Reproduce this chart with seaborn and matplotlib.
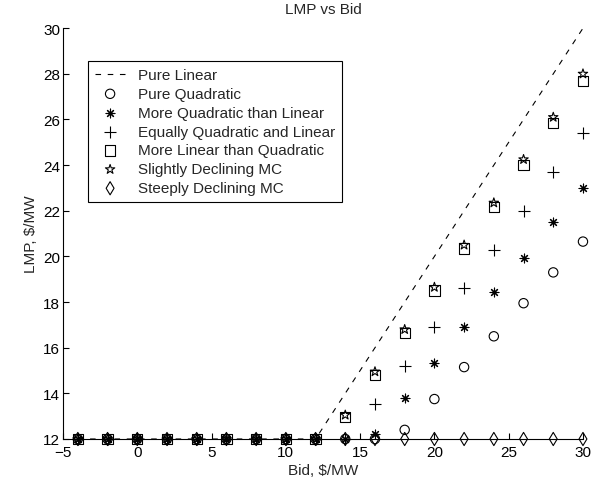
import matplotlib
matplotlib.use("Agg")
import matplotlib.pyplot as plt
import seaborn as sns
import pandas as pd

bid = [-4, -2, 0, 2, 4, 6, 8, 10, 12, 14, 16, 18, 20, 22, 24, 26, 28, 30]
pure_linear = [12, 12, 12, 12, 12, 12, 12, 12, 12, 14, 16, 18, 20, 22, 24, 26, 28, 30]
pure_quadratic = [12, 12, 12, 12, 12, 12, 12, 12, 12, 12, 12, 12.4, 13.75, 15.15, 16.5, 17.95, 19.3, 20.65]
more_quad = [12, 12, 12, 12, 12, 12, 12, 12, 12, 12, 12.2, 13.8, 15.35, 16.9, 18.45, 19.95, 21.5, 23.0]
equal_ql = [12, 12, 12, 12, 12, 12, 12, 12, 12, 12, 13.55, 15.2, 16.9, 18.6, 20.3, 22.0, 23.7, 25.4]
more_lin = [12, 12, 12, 12, 12, 12, 12, 12, 12, 12.95, 14.8, 16.65, 18.5, 20.35, 22.15, 24.0, 25.85, 27.7]
slight_decl = [12, 12, 12, 12, 12, 12, 12, 12, 12, 13.05, 14.95, 16.8, 18.65, 20.5, 22.35, 24.25, 26.1, 28.0]
steep_decl = [12] * 18

labels = ["Pure Linear", "Pure Quadratic", "More Quadratic than Linear",
          "Equally Quadratic and Linear", "More Linear than Quadratic",
          "Slightly Declining MC", "Steeply Declining MC"]

sns.set_style("ticks")
plt.rcParams['font.family'] = ['Liberation Sans', 'DejaVu Sans']
plt.rcParams['xtick.direction'] = 'in'
plt.rcParams['ytick.direction'] = 'in'

fig = plt.figure(figsize=(5.97, 4.85), dpi=100)
ax = fig.add_axes([0.1055, 0.0928, 0.871, 0.847])

sns.lineplot(x=bid, y=pure_linear, ax=ax, color='k', linewidth=0.8,
             dashes=False, label=labels[0])
ax.lines[-1].set_dashes((5, 6))

marker_specs = [
    (pure_quadratic, 'o', True, 45),
    (more_quad, (8, 2, 0), False, 40),
    (equal_ql, '+', False, 65),
    (more_lin, 's', True, 55),
    (slight_decl, '*', True, 50),
    (steep_decl, 'd', True, 45),
]
for (vals, mk, closed, sz), lab in zip(marker_specs, labels[1:]):
    if closed:
        sns.scatterplot(x=bid, y=vals, ax=ax, marker=mk, s=sz, facecolor='none',
                        edgecolor='k', linewidth=0.8, label=lab, zorder=3, clip_on=False)
    else:
        sns.scatterplot(x=bid, y=vals, ax=ax, marker=mk, s=sz, color='k',
                        linewidth=0.8, label=lab, zorder=3, clip_on=False)

ax.set_xlim(-5, 30)
ax.set_ylim(12, 30)
ax.set_xticks([-5, 0, 5, 10, 15, 20, 25, 30])
ax.set_yticks([12, 14, 16, 18, 20, 22, 24, 26, 28, 30])
ax.tick_params(labelsize=11, length=4, width=0.8, color='k', labelcolor='k')
ax.tick_params(axis='x', pad=4)
ax.tick_params(axis='y', pad=2)
for s in ['top', 'right']:
    ax.spines[s].set_visible(False)
for s in ['left', 'bottom']:
    ax.spines[s].set_linewidth(0.8)
    ax.spines[s].set_color('k')

ax.set_xlabel("Bid, $/MW", fontsize=11, labelpad=3)
ax.set_ylabel("LMP, $/MW", fontsize=11, labelpad=4)
ax.set_title("LMP vs Bid", fontsize=11, pad=11)

leg = ax.legend(loc='upper left', bbox_to_anchor=(0.048, 0.92), fontsize=11,
                frameon=True, fancybox=False, edgecolor='k', framealpha=1,
                borderpad=0.45, labelspacing=0.32, handlelength=2.0, handletextpad=0.8,
                borderaxespad=0)
leg.get_frame().set_linewidth(0.8)

fig.savefig("out.png", dpi=100)
